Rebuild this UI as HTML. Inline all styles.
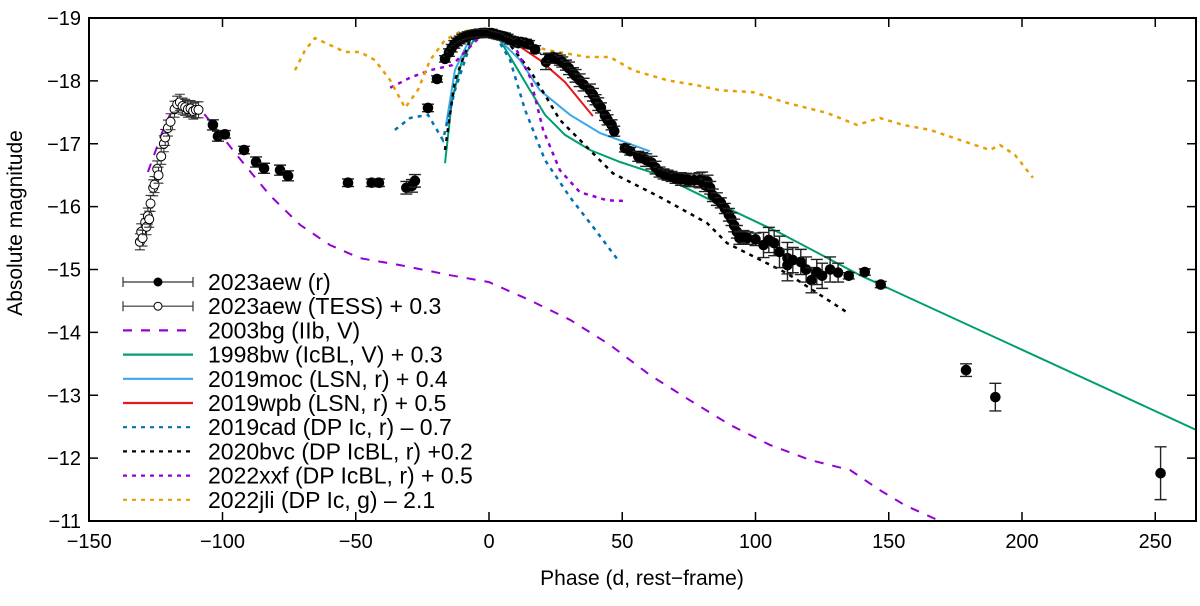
<!DOCTYPE html>
<html><head><meta charset="utf-8"><style>
body{margin:0;background:#fff}
svg text{font-family:"Liberation Sans",sans-serif;fill:#000}
</style></head><body>
<svg id="chart" width="1200" height="601" viewBox="0 0 1200 601" xmlns="http://www.w3.org/2000/svg"></svg>
<script>
const xTicks=[-150,-100,-50,0,50,100,150,200,250];
const yTicks=[-19,-18,-17,-16,-15,-14,-13,-12,-11];
const aewPhase=[-103.6,-101.7,-99.1,-91.9,-87.4,-84.4,-78.4,-75.4,-52.9,-44,-41.3,-31,-28.9,-27.8,-22.9,-19.5,-16.5,-15,-14,-13,-12,-11,-10,-9,-8,-7,-6,-5,-4,-3,-2,-1,0,1,2,3,4,5,6,7,8,9,10,11,12,13.9,15,17.3,21.4,22.5,24,25,26.6,27.5,28.9,30,31.5,32.5,34,35.5,37.9,39,40,41,42,43.5,44.5,46,47,51,53,56,57.5,59,61,62.5,64,65.5,67,68.5,70,72,74,75,77,79,80,81,82,83,84,85.5,87,88.5,90,91,92,93,94,95.5,97,100,103,105,107,109,112,112,114,117,119,121,123,125,128,131,135,141,147,179,190,252];
const aewMag=[-17.3,-17.12,-17.15,-16.9,-16.71,-16.61,-16.58,-16.49,-16.38,-16.38,-16.38,-16.3,-16.33,-16.41,-17.57,-18.03,-18.35,-18.45,-18.52,-18.58,-18.62,-18.65,-18.68,-18.7,-18.72,-18.73,-18.74,-18.75,-18.75,-18.76,-18.76,-18.76,-18.76,-18.76,-18.74,-18.73,-18.72,-18.71,-18.7,-18.68,-18.65,-18.64,-18.62,-18.6,-18.62,-18.6,-18.58,-18.5,-18.3,-18.36,-18.38,-18.36,-18.33,-18.3,-18.25,-18.2,-18.13,-18.08,-18.01,-17.94,-17.85,-17.78,-17.7,-17.63,-17.57,-17.45,-17.38,-17.3,-17.2,-16.93,-16.88,-16.8,-16.78,-16.74,-16.7,-16.62,-16.55,-16.52,-16.5,-16.48,-16.45,-16.44,-16.43,-16.42,-16.42,-16.42,-16.43,-16.34,-16.4,-16.3,-16.18,-16.12,-16.06,-15.97,-15.87,-15.8,-15.7,-15.6,-15.5,-15.52,-15.5,-15.48,-15.39,-15.47,-15.42,-15.28,-15.18,-15.07,-15.15,-15.12,-15.0,-14.83,-14.96,-14.9,-15.0,-14.95,-14.9,-14.96,-14.76,-13.4,-12.97,-11.76];
const aewErr=[0.08,0.08,0.06,0.06,0.08,0.08,0.08,0.08,0.06,0.06,0.06,0.1,0.1,0.1,0.06,0.05,0.05,0.06,0.06,0.06,0.06,0.06,0.06,0.06,0.06,0.06,0.06,0.06,0.06,0.06,0.06,0.06,0.06,0.06,0.06,0.06,0.06,0.06,0.06,0.06,0.06,0.06,0.06,0.06,0.06,0.06,0.06,0.06,0.12,0.08,0.06,0.08,0.08,0.08,0.08,0.1,0.08,0.1,0.1,0.1,0.1,0.1,0.08,0.1,0.08,0.08,0.08,0.08,0.08,0.06,0.06,0.08,0.08,0.1,0.1,0.1,0.08,0.08,0.08,0.08,0.08,0.1,0.1,0.1,0.1,0.12,0.12,0.1,0.1,0.1,0.1,0.1,0.08,0.08,0.1,0.1,0.1,0.1,0.1,0.1,0.1,0.1,0.2,0.2,0.2,0.25,0.25,0.25,0.2,0.2,0.2,0.2,0.2,0.2,0.2,0.15,0.05,0.05,0.05,0.1,0.22,0.42];
const tessPhase=[-131,-130.5,-130,-129,-128.5,-128,-127.5,-127,-126,-125.5,-124.5,-124,-123,-122,-121.5,-120.5,-119.5,-118,-117,-116,-115,-114,-113,-112,-111,-110,-109];
const tessMag=[-15.44,-15.6,-15.5,-15.75,-15.68,-15.85,-15.8,-16.05,-16.3,-16.35,-16.6,-16.5,-16.8,-17.0,-17.1,-17.25,-17.35,-17.55,-17.63,-17.66,-17.6,-17.58,-17.55,-17.56,-17.52,-17.54,-17.54];
const bg03P=[-128,-121.6,-117.8,-116,-110.3,-106.6,-99.1,-91.6,-82.2,-70.9,-59.7,-48.4,-33.4,-14.6,0,15.4,30.4,45.4,60.4,75.4,90.4,105.4,120.5,135.5,146.7,156.1,169.2];
const bg03M=[-16.55,-17.3,-17.62,-17.7,-17.57,-17.46,-17.06,-16.66,-16.18,-15.71,-15.39,-15.18,-15.07,-14.91,-14.8,-14.51,-14.2,-13.8,-13.32,-12.92,-12.53,-12.21,-11.97,-11.81,-11.49,-11.25,-11.0];
const bw98P=[-16.5,-13.9,-10.1,-5.3,0,4.1,9.8,15.4,21,28.5,37.9,49.2,64.2,86.7,109.2,139.2,265.3];
const bw98M=[-16.69,-17.7,-18.33,-18.68,-18.81,-18.65,-18.25,-17.85,-17.46,-17.14,-16.9,-16.71,-16.5,-16.03,-15.58,-14.91,-12.45];
const mocP=[-16.1,-12.8,-7.1,-1.5,4.1,11.6,19.1,30.4,41.7,60.4];
const mocM=[-17.3,-18.17,-18.68,-18.81,-18.65,-18.33,-17.85,-17.46,-17.17,-16.88];
const wpbP=[0,7.9,19.1,28.5,39];
const wpbM=[-18.81,-18.65,-18.33,-17.98,-17.44];
const cadP=[-35.3,-29.6,-22.9,-17.3,-12.8,-7.1,-2.6,2.3,7.9,13.5,21,30.4,39,48.4];
const cadM=[-17.22,-17.41,-17.46,-17.06,-17.85,-18.57,-18.78,-18.73,-18.33,-17.54,-16.74,-16.15,-15.68,-15.15];
const bvcP=[-16.5,-12.8,-7.1,0,7.9,15.4,26.6,46.5,64.2,81.8,89.3,111.8,134.3];
const bvcM=[-16.9,-18.01,-18.65,-18.81,-18.57,-18.17,-17.38,-16.53,-16.15,-15.74,-15.42,-14.94,-14.32];
const xxfP=[-37.1,-29.6,-22.1,-13.9,-3.4,0,7.9,15.4,20.3,26.6,34.1,44.3,51];
const xxfM=[-17.89,-18.05,-18.17,-18.25,-18.7,-18.78,-18.7,-18.06,-17.22,-16.58,-16.23,-16.1,-16.09];
const jliP=[-72.8,-69,-65.3,-59.7,-54,-48.4,-42.8,-37.1,-31.5,-26.6,-22.1,-16.5,-10.9,0,7.9,15.4,21.8,36.8,45.4,54,66.8,78,86.7,99.1,111.8,126.8,138.1,146.7,155.3,165.5,176.7,188,191.7,197.4,204.1];
const jliM=[-18.17,-18.49,-18.68,-18.57,-18.46,-18.46,-18.33,-18.01,-17.57,-17.86,-18.33,-18.65,-18.78,-18.84,-18.73,-18.57,-18.49,-18.38,-18.38,-18.17,-18.01,-17.93,-17.85,-17.82,-17.65,-17.49,-17.3,-17.41,-17.3,-17.22,-17.06,-16.9,-16.98,-16.82,-16.46];

const L=89,R=1196,T=18,B=521;
const X=v=>489+(v)*2.665;
const Y=m=>T+(m+19)*62.875;
const svg=document.getElementById('chart');
const NS='http://www.w3.org/2000/svg';
function mk(tag,attrs,parent){const e=document.createElementNS(NS,tag);for(const k in attrs)e.setAttribute(k,attrs[k]);(parent||svg).appendChild(e);return e;}
const defs=mk('clipPath',{id:'clip'});mk('rect',{x:L,y:T,width:R-L,height:B-T},defs);
const plot=mk('g',{'clip-path':'url(#clip)'});



function series(P,M,color,dash,name,w){
  const d=P.map((p,i)=>(i?'L':'M')+X(p).toFixed(1)+','+Y(M[i]).toFixed(1)).join('');
  const e=mk('path',{d:d,fill:'none',stroke:color,'stroke-width':w||2,'stroke-dasharray':dash||'none'},plot);
  
  
}
series(bg03P,bg03M,'#9400d3','9,9','line-2003bg');
series(bw98P,bw98M,'#009e73','','line-1998bw');
series(mocP,mocM,'#3aa8e8','','line-2019moc');
series(wpbP,wpbM,'#e41a1c','','line-2019wpb');
series(cadP,cadM,'#0072b2','4,5','line-2019cad',2.5);
series(bvcP,bvcM,'#000','4,5','line-2020bvc',2.5);
series(xxfP,xxfM,'#9400d3','4,5','line-2022xxf',2.5);
series(jliP,jliM,'#e69f00','4,5','line-2022jli',2.5);

tessPhase.forEach((p,i)=>{
  const x=X(p),y=Y(tessMag[i]);
  mk('path',{d:`M${x},${y-8}V${y+8}M${x-5},${y-8}H${x+5}M${x-5},${y+8}H${x+5}`,stroke:'#333','stroke-width':1.1,fill:'none'},plot);
  const c=mk('circle',{cx:x,cy:y,r:4.5,fill:'#fff',stroke:'#000','stroke-width':1},plot);
  
  
});
aewPhase.forEach((p,i)=>{
  const x=X(p),y=Y(aewMag[i]),e=aewErr[i]*62.875;
  mk('path',{d:`M${x},${y-e}V${y+e}M${x-6},${y-e}H${x+6}M${x-6},${y+e}H${x+6}`,stroke:'#222','stroke-width':1.4,fill:'none'},plot);
  const c=mk('circle',{cx:x,cy:y,r:5.3,fill:'#000'},plot);
  
  
});

const fr=mk('rect',{x:L,y:T,width:R-L,height:B-T,fill:'none',stroke:'#000','stroke-width':2});


xTicks.forEach(t=>{
  const x=X(t);
  mk('line',{x1:x,x2:x,y1:B,y2:B-9,stroke:'#000','stroke-width':1.5});
  mk('line',{x1:x,x2:x,y1:T,y2:T+9,stroke:'#000','stroke-width':1.5});
  const tx=mk('text',{x:x,y:B+27,'text-anchor':'middle','font-size':20});
  tx.textContent=String(t).replace('-','\u2212');
  
  
});
yTicks.forEach(t=>{
  const y=Y(t);
  mk('line',{x1:L,x2:L+9,y1:y,y2:y,stroke:'#000','stroke-width':1.5});
  mk('line',{x1:R,x2:R-9,y1:y,y2:y,stroke:'#000','stroke-width':1.5});
  const tx=mk('text',{x:L-8,y:y+7,'text-anchor':'end','font-size':20});
  tx.textContent=String(t).replace('-','\u2212');
  
  
});
const xt=mk('text',{x:642,y:585,'text-anchor':'middle','font-size':21});
xt.textContent='Phase (d, rest\u2212frame)';


const yt=mk('text',{x:0,y:0,'text-anchor':'middle','font-size':21,transform:'translate(22,223) rotate(-90)'});
yt.textContent='Absolute magnitude';



const legLabels=['2023aew (r)','2023aew (TESS) + 0.3','2003bg (IIb, V)','1998bw (IcBL, V) + 0.3','2019moc (LSN, r) + 0.4','2019wpb (LSN, r) + 0.5','2019cad (DP Ic, r) \u2013 0.7','2020bvc (DP IcBL, r) +0.2','2022xxf (DP IcBL, r) + 0.5','2022jli (DP Ic, g) \u2013 2.1'];
const legColors=['#333','#333','#9400d3','#009e73','#3aa8e8','#e41a1c','#0072b2','#000','#9400d3','#e69f00'];
const legDash=['','','9,9','','','','4,5','4,5','4,5','4,5'];
const lg=mk('g',{});


legLabels.forEach((lab,i)=>{
  const y=282+i*24.2;
  const g=mk('g',{},lg);
  
  
  mk('line',{x1:123,x2:193,y1:y,y2:y,stroke:legColors[i],'stroke-width':i<2?1.2:2.2,'stroke-dasharray':legDash[i]||'none'},g);
  if(i<2){mk('path',{d:`M123,${y-5}V${y+5}M193,${y-5}V${y+5}`,stroke:'#333','stroke-width':1.2},g);
    mk('circle',{cx:158,cy:y,r:4,fill:i==0?'#000':'#fff',stroke:'#000','stroke-width':1},g);}
  const t=mk('text',{x:208,y:y+8,'font-size':23,'textLength':null},g);
  t.removeAttribute('textLength');
  t.textContent=lab;
});
</script>
</body></html>
